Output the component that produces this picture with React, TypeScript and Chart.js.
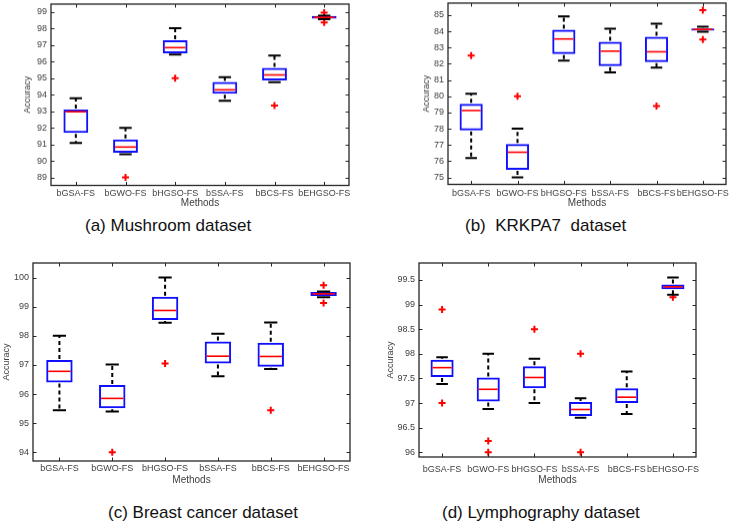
import React, { useEffect, useRef } from 'react';
import { Chart, registerables } from 'chart.js';

Chart.register(...registerables);

const FONT = "'Liberation Sans', Arial, sans-serif";

// Methods (categories) shared by all four panels
const methods = ['bGSA-FS', 'bGWO-FS', 'bHGSO-FS', 'bSSA-FS', 'bBCS-FS', 'bEHGSO-FS'];

// (a) Mushroom dataset
const mushroomQ1 = [91.7, 90.5, 96.5, 94.06, 94.86, 98.6];
const mushroomMedian = [92.97, 90.84, 96.85, 94.3, 95.2, 98.68];
const mushroomQ3 = [93.1, 91.3, 97.3, 94.78, 95.62, 98.76];
const mushroomLow = [91.08, 90.4, 96.43, 93.64, 94.76, 98.57];
const mushroomHigh = [93.78, 92.0, 98.03, 95.06, 96.37, 98.78];
const mushroomOutlierMethod = ['bGWO-FS', 'bHGSO-FS', 'bBCS-FS', 'bEHGSO-FS', 'bEHGSO-FS'];
const mushroomOutlierValue = [89.0, 95.0, 93.35, 98.96, 98.37];
const mushroomYTicks = [89, 90, 91, 92, 93, 94, 95, 96, 97, 98, 99];

// (b) KRKPA7 dataset
const krkpa7Q1 = [77.9, 75.47, 82.6, 81.86, 82.1, 84.04];
const krkpa7Median = [79.12, 76.55, 83.53, 82.78, 82.74, 84.12];
const krkpa7Q3 = [79.53, 77.06, 84.1, 83.35, 83.66, 84.18];
const krkpa7Low = [76.2, 75.0, 82.19, 81.47, 81.77, 83.98];
const krkpa7High = [80.16, 78.0, 84.92, 84.16, 84.47, 84.29];
const krkpa7OutlierMethod = ['bGSA-FS', 'bGWO-FS', 'bBCS-FS', 'bEHGSO-FS', 'bEHGSO-FS'];
const krkpa7OutlierValue = [82.5, 80.0, 79.4, 85.31, 83.5];
const krkpa7YTicks = [75, 76, 77, 78, 79, 80, 81, 82, 83, 84, 85];

// (c) Breast cancer dataset
const breastQ1 = [96.4, 95.51, 98.54, 97.05, 96.94, 99.37];
const breastMedian = [96.78, 95.85, 98.87, 97.3, 97.29, 99.44];
const breastQ3 = [97.17, 96.31, 99.34, 97.8, 97.76, 99.5];
const breastLow = [95.44, 95.4, 98.45, 96.61, 96.86, 99.32];
const breastHigh = [98.0, 97.01, 100.0, 98.07, 98.46, 99.52];
const breastOutlierMethod = ['bGWO-FS', 'bHGSO-FS', 'bBCS-FS', 'bEHGSO-FS', 'bEHGSO-FS'];
const breastOutlierValue = [94.0, 97.05, 95.44, 99.74, 99.13];
const breastYTicks = [94, 95, 96, 97, 98, 99, 100];

// (d) Lymphography dataset
const lymphQ1 = [97.53, 97.03, 97.3, 96.74, 97.0, 99.31];
const lymphMedian = [97.72, 97.28, 97.52, 96.87, 97.12, 99.36];
const lymphQ3 = [97.88, 97.52, 97.75, 97.02, 97.3, 99.41];
const lymphLow = [97.39, 96.88, 97.0, 96.7, 96.78, 99.2];
const lymphHigh = [97.93, 98.0, 97.9, 97.1, 97.64, 99.55];
const lymphOutlierMethod = ['bGSA-FS', 'bGSA-FS', 'bGWO-FS', 'bGWO-FS', 'bHGSO-FS', 'bSSA-FS', 'bSSA-FS', 'bEHGSO-FS'];
const lymphOutlierValue = [98.9, 97.0, 96.23, 96.0, 98.5, 98.0, 96.0, 99.15];
const lymphYTicks = [96, 96.5, 97, 97.5, 98, 98.5, 99, 99.5];

type PanelDef = {
  q1: number[]; med: number[]; q3: number[]; lo: number[]; hi: number[];
  outM: string[]; outV: number[];
  yMin: number; yMax: number; yTicks: number[];
  L: number; R: number; T: number; B: number;
  titleX: number; labelY: number; methodsY: number;
  caption: string; capX: number; capY: number;
};

const panels: PanelDef[] = [
  {
    q1: mushroomQ1, med: mushroomMedian, q3: mushroomQ3, lo: mushroomLow, hi: mushroomHigh,
    outM: mushroomOutlierMethod, outV: mushroomOutlierValue,
    yMin: 88.52, yMax: 99.48, yTicks: mushroomYTicks,
    L: 51, R: 349, T: 4, B: 185, titleX: 28, labelY: 193, methodsY: 202.5,
    caption: '(a) Mushroom dataset', capX: 85, capY: 226,
  },
  {
    q1: krkpa7Q1, med: krkpa7Median, q3: krkpa7Q3, lo: krkpa7Low, hi: krkpa7High,
    outM: krkpa7OutlierMethod, outV: krkpa7OutlierValue,
    yMin: 74.57, yMax: 85.74, yTicks: krkpa7YTicks,
    L: 448, R: 726, T: 3, B: 184, titleX: 427, labelY: 193, methodsY: 202.5,
    caption: '(b)  KRKPA7  dataset', capX: 465, capY: 226,
  },
  {
    q1: breastQ1, med: breastMedian, q3: breastQ3, lo: breastLow, hi: breastHigh,
    outM: breastOutlierMethod, outV: breastOutlierValue,
    yMin: 93.7, yMax: 100.5, yTicks: breastYTicks,
    L: 33, R: 350, T: 263, B: 461, titleX: 7, labelY: 469, methodsY: 480,
    caption: '(c) Breast cancer dataset', capX: 108, capY: 513,
  },
  {
    q1: lymphQ1, med: lymphMedian, q3: lymphQ3, lo: lymphLow, hi: lymphHigh,
    outM: lymphOutlierMethod, outV: lymphOutlierValue,
    yMin: 95.905, yMax: 99.845, yTicks: lymphYTicks,
    L: 419, R: 696, T: 263, B: 457, titleX: 391, labelY: 470, methodsY: 480,
    caption: '(d) Lymphography dataset', capX: 442, capY: 513,
  },
];

function makeBoxPlugin(p: PanelDef) {
  return {
    id: 'boxExtras',
    afterDatasetsDraw(chart: any) {
      const { ctx, chartArea } = chart;
      const x = chart.scales.x;
      const y = chart.scales.y;
      const step = x.getPixelForValue(1) - x.getPixelForValue(0);
      const boxHalf = step * 0.25;
      const capHalf = step * 0.125;
      ctx.save();
      for (let i = 0; i < methods.length; i++) {
        const cx = x.getPixelForValue(i);
        const yq1 = y.getPixelForValue(p.q1[i]);
        const yq3 = y.getPixelForValue(p.q3[i]);
        const ylo = y.getPixelForValue(p.lo[i]);
        const yhi = y.getPixelForValue(p.hi[i]);
        const ymed = y.getPixelForValue(p.med[i]);
        // dashed whiskers
        ctx.strokeStyle = '#000';
        ctx.lineWidth = 2;
        ctx.setLineDash([4, 3]);
        ctx.beginPath();
        ctx.moveTo(cx, yq3 - 1);
        ctx.lineTo(cx, yhi);
        ctx.moveTo(cx, yq1 + 1);
        ctx.lineTo(cx, ylo);
        ctx.stroke();
        // caps
        ctx.setLineDash([]);
        ctx.beginPath();
        ctx.moveTo(cx - capHalf, yhi);
        ctx.lineTo(cx + capHalf, yhi);
        ctx.moveTo(cx - capHalf, ylo);
        ctx.lineTo(cx + capHalf, ylo);
        ctx.stroke();
        // median
        ctx.strokeStyle = '#ff0000';
        ctx.lineWidth = 1.6;
        ctx.beginPath();
        ctx.moveTo(cx - boxHalf + 2, ymed);
        ctx.lineTo(cx + boxHalf - 2, ymed);
        ctx.stroke();
      }
      // frame and inner ticks
      const { left, right, top, bottom } = chartArea;
      ctx.strokeStyle = '#262626';
      ctx.lineWidth = 1.3;
      ctx.strokeRect(left, top, right - left, bottom - top);
      ctx.lineWidth = 1;
      ctx.beginPath();
      for (const t of y.ticks) {
        const py = Math.round(y.getPixelForValue(t.value)) + 0.5;
        ctx.moveTo(left, py);
        ctx.lineTo(left + 3.5, py);
        ctx.moveTo(right, py);
        ctx.lineTo(right - 3.5, py);
      }
      for (let i = 0; i < methods.length; i++) {
        const px = Math.round(x.getPixelForValue(i)) + 0.5;
        ctx.moveTo(px, bottom);
        ctx.lineTo(px, bottom - 3.5);
        ctx.moveTo(px, top);
        ctx.lineTo(px, top + 3.5);
      }
      ctx.stroke();
      ctx.restore();
    },
  };
}

function BoxPanel({ p }: { p: PanelDef }) {
  const ref = useRef<HTMLCanvasElement>(null);
  const cx = p.titleX - 8;
  const cy = p.T - 14;
  const cw = p.R + 20 - cx;
  const ch = p.methodsY + 9 - cy;

  useEffect(() => {
    if (!ref.current) return;
    const chart = new Chart(ref.current, {
      type: 'bar',
      data: {
        labels: methods,
        datasets: [
          {
            type: 'bar',
            data: methods.map((_, i) => [p.q1[i], p.q3[i]]) as any,
            backgroundColor: 'rgba(255,255,255,0)',
            borderColor: '#1010ff',
            borderWidth: 2,
            borderSkipped: false,
            barPercentage: 0.5,
            categoryPercentage: 1,
            order: 2,
          } as any,
          {
            type: 'scatter',
            data: p.outM.map((m, i) => ({ x: m, y: p.outV[i] })) as any,
            pointStyle: 'cross',
            radius: 3.5,
            borderWidth: 2,
            borderColor: '#ff0000',
            backgroundColor: '#ff0000',
            order: 1,
          } as any,
        ],
      },
      options: {
        responsive: false,
        animation: false,
        devicePixelRatio: 1,
        layout: { padding: { left: 0, top: 14, right: 20, bottom: 0 } },
        plugins: { legend: { display: false }, tooltip: { enabled: false } },
        scales: {
          x: {
            type: 'category',
            offset: true,
            grid: { display: false, drawTicks: false },
            border: { display: false },
            ticks: {
              autoSkip: false,
              maxRotation: 0,
              minRotation: 0,
              padding: p.labelY - p.B - 5.4,
              font: { family: FONT, size: 9 },
              color: '#404040',
            },
            title: {
              display: true,
              text: 'Methods',
              font: { family: FONT, size: 10 },
              color: '#404040',
              padding: { top: 0, bottom: 3 },
            },
            afterFit: (s: any) => { s.height = p.methodsY + 9 - p.B; },
          },
          y: {
            type: 'linear',
            min: p.yMin,
            max: p.yMax,
            grid: { display: false, drawTicks: false },
            border: { display: false },
            afterBuildTicks: (s: any) => { s.ticks = p.yTicks.map((v) => ({ value: v })); },
            ticks: {
              padding: 4,
              font: { family: FONT, size: 9 },
              color: '#404040',
              callback: (v: any) => String(v),
            },
            title: {
              display: true,
              text: 'Accuracy',
              font: { family: FONT, size: 9 },
              color: '#404040',
              padding: { top: 8 - 5.4, bottom: 0 },
            },
            afterFit: (s: any) => { s.width = p.L - cx; },
          },
        },
      } as any,
      plugins: [makeBoxPlugin(p) as any],
    });
    return () => chart.destroy();
  }, []);

  return (
    <>
      <canvas
        ref={ref}
        width={cw}
        height={ch}
        style={{ position: 'absolute', left: cx, top: cy, width: cw, height: ch }}
      />
      <div
        style={{
          position: 'absolute',
          left: p.capX,
          top: p.capY - 10,
          height: 20,
          lineHeight: '20px',
          fontFamily: FONT,
          fontSize: 17,
          color: '#111',
          whiteSpace: 'pre',
        }}
      >
        {p.caption}
      </div>
    </>
  );
}

export default function App() {
  return (
    <div
      style={{
        position: 'absolute',
        left: 0,
        top: 0,
        width: 729,
        height: 523,
        overflow: 'hidden',
        background: '#fff',
      }}
    >
      {panels.map((p, i) => (
        <BoxPanel key={i} p={p} />
      ))}
    </div>
  );
}
